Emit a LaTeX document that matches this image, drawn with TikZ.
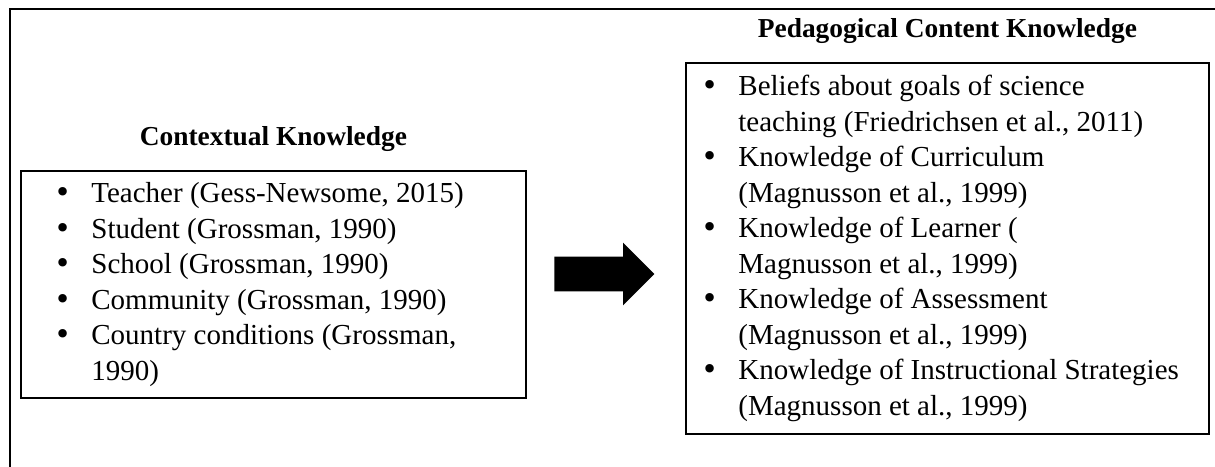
\documentclass[tikz,border=0pt]{standalone}
\usepackage{fontspec}
\setmainfont{Liberation Serif}
\newfontfamily\bulfont{DejaVu Sans}
\usetikzlibrary{positioning,shapes.arrows}

\newcommand{\bul}{\makebox[18.5pt][l]{\bulfont •}}
\newcommand{\cont}{\hspace*{18.5pt}}

\begin{document}
\begin{tikzpicture}[x=0.5pt,y=-0.5pt,
  font=\fontsize{14.5}{17.75}\selectfont,
  frame/.style={line width=1.1pt},
  box/.style={draw,line width=0.9pt,inner sep=0pt,anchor=north west},
  lst/.style={inner sep=0pt,align=left},
  hd/.style={inner sep=0pt,font=\fontsize{13.7}{15}\selectfont\bfseries},
  blockarr/.style={single arrow,fill=black,inner xsep=0pt,inner ysep=8.5pt,
    minimum height=50pt,single arrow head extend=7pt,single arrow tip angle=90}]
  \useasboundingbox (0,0) rectangle (1215,466);
  % outer frame, cut by the page edge
  \draw[frame] (10,472) -- (10,9) -- (1222,9);
  % the two boxes
  \node[box,minimum width=252.5pt,minimum height=113.5pt] (ctxbox) at (20,170) {};
  \node[box,minimum width=261.5pt,minimum height=185.5pt] (pckbox) at (685,62) {};
  \node[hd,above=9pt of ctxbox] (ctxhd) {Contextual Knowledge};
  \node[hd,above=9pt of pckbox] (pckhd) {Pedagogical Content Knowledge};
  \node[lst,right=17pt of ctxbox.west] (ctxlst)
    {\bul Teacher (Gess-Newsome, 2015)\\
     \bul Student (Grossman, 1990)\\
     \bul School (Grossman, 1990)\\
     \bul Community (Grossman, 1990)\\
     \bul Country conditions (Grossman,\\
     \cont 1990)};
  \node[lst,right=8pt of pckbox.west] (pcklst)
    {\bul Beliefs about goals of science\\
     \cont teaching (Friedrichsen et al., 2011)\\
     \bul Knowledge of Curriculum\\
     \cont (Magnusson et al., 1999)\\
     \bul Knowledge of Learner (\\
     \cont Magnusson et al., 1999)\\
     \bul Knowledge of Assessment\\
     \cont (Magnusson et al., 1999)\\
     \bul Knowledge of Instructional Strategies\\
     \cont (Magnusson et al., 1999)};
  % block arrow between the boxes
  \node[blockarr,anchor=tip] (arr) at (655,274) {};
\end{tikzpicture}
\end{document}
